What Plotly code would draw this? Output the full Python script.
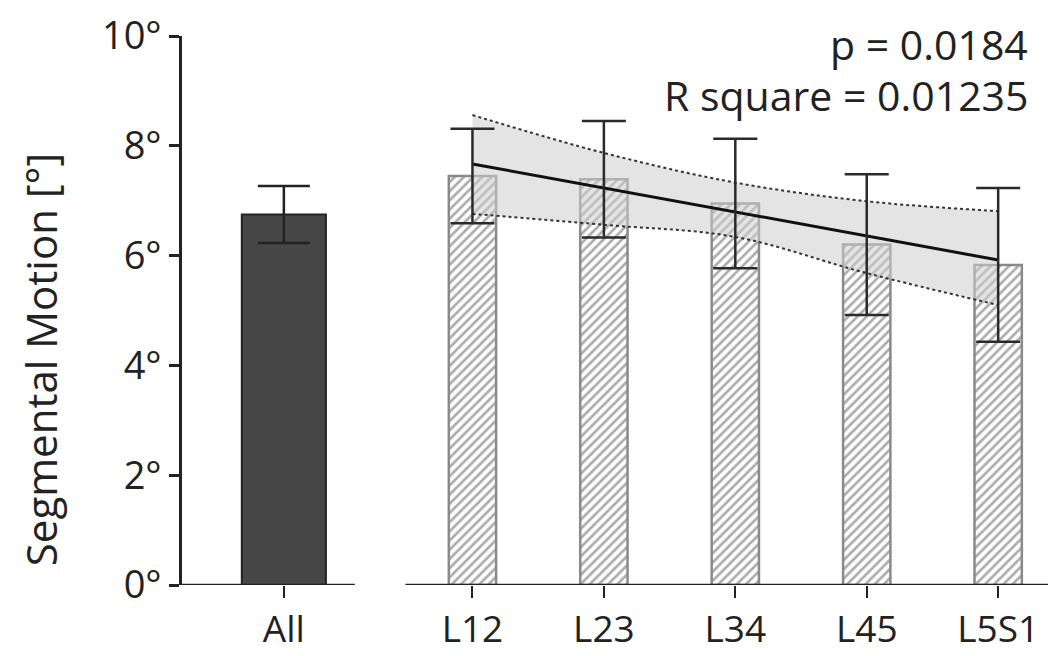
import plotly.graph_objects as go

# ---- data ----
categories = ["All", "L12", "L23", "L34", "L45", "L5S1"]
all_mean = [6.75]
all_err = [0.52]
seg_labels = ["L12", "L23", "L34", "L45", "L5S1"]
seg_mean = [7.45, 7.39, 6.95, 6.20, 5.83]
seg_err = [0.86, 1.06, 1.18, 1.28, 1.40]
fit_line = [7.67, 7.23, 6.80, 6.36, 5.92]
ci_upper = [8.56, 7.87, 7.33, 6.99, 6.81]
ci_lower = [6.76, 6.56, 6.34, 5.68, 5.10]
y_ticks = [0, 2, 4, 6, 8, 10]
y_ticktext = ["0°", "2°", "4°", "6°", "8°", "10°"]
y_title = "Segmental Motion [°]"
p_text = "p = 0.0184"
r2_text = "R square = 0.01235"

# ---- layout positions (not data) ----
all_pos = [-0.435]
seg_pos = [1, 2, 3, 4, 5]
x_range = [-1.21, 5.44]

FONT = "Open Sans"
fig = go.Figure()

fig.add_trace(go.Bar(
    x=all_pos, y=all_mean, width=0.64,
    marker=dict(color="#464646", line=dict(color="#222222", width=2)),
    showlegend=False,
))
fig.add_trace(go.Bar(
    x=seg_pos, y=seg_mean, width=0.36,
    marker=dict(color="white", line=dict(color="#8a8a8a", width=2.5),
                pattern=dict(shape="/", fgcolor="#5a5a5a", bgcolor="white",
                             size=6.5, solidity=0.42)),
    showlegend=False,
))

# confidence band
fig.add_trace(go.Scatter(
    x=seg_pos, y=ci_upper, mode="lines", line=dict(color="#333333", width=2, dash="dot", shape="spline"),
    showlegend=False, hoverinfo="skip",
))
fig.add_trace(go.Scatter(
    x=seg_pos, y=ci_lower, mode="lines", line=dict(color="#333333", width=2, dash="dot", shape="spline"),
    fill="tonexty", fillcolor="rgba(205,205,205,0.55)",
    showlegend=False, hoverinfo="skip",
))
# regression line
fig.add_trace(go.Scatter(
    x=seg_pos, y=fit_line, mode="lines", line=dict(color="#111111", width=3),
    showlegend=False, hoverinfo="skip",
))

# error bars
fig.add_trace(go.Scatter(
    x=all_pos, y=all_mean, mode="markers", marker=dict(color="rgba(0,0,0,0)", size=1),
    error_y=dict(type="data", array=all_err, color="#222222", thickness=2.5, width=26),
    showlegend=False, hoverinfo="skip",
))
fig.add_trace(go.Scatter(
    x=seg_pos, y=seg_mean, mode="markers", marker=dict(color="rgba(0,0,0,0)", size=1),
    error_y=dict(type="data", array=seg_err, color="#2a2a2a", thickness=2.5, width=22),
    showlegend=False, hoverinfo="skip",
))

# broken x axis line
fig.add_shape(type="line", xref="x", yref="y", x0=x_range[0], x1=0.105, y0=0, y1=0,
              line=dict(color="#222222", width=2.5), layer="above")
fig.add_shape(type="line", xref="x", yref="y", x0=0.49, x1=x_range[1], y0=0, y1=0,
              line=dict(color="#222222", width=2.5), layer="above")

fig.add_annotation(xref="paper", yref="paper", x=0.97, y=0.985, text=p_text,
                   showarrow=False, xanchor="right", yanchor="middle",
                   font=dict(family=FONT, size=41, color="#222222"))
fig.add_annotation(xref="paper", yref="paper", x=0.97, y=0.893, text=r2_text,
                   showarrow=False, xanchor="right", yanchor="middle",
                   font=dict(family=FONT, size=41, color="#222222"))
# y-axis title
fig.add_annotation(xref="paper", yref="paper", x=-0.161, y=0.41, text=y_title,
                   textangle=-90, showarrow=False, xanchor="center", yanchor="middle",
                   font=dict(family=FONT, size=42, color="#222222"))

fig.update_layout(
    width=1048, height=648,
    margin=dict(l=174, r=0, t=19, b=71),
    paper_bgcolor="white", plot_bgcolor="white",
    barmode="overlay",
    font=dict(family=FONT, size=36, color="#222222"),
    xaxis=dict(range=x_range, tickvals=all_pos + seg_pos, ticktext=categories,
               ticks="outside", ticklen=12, tickwidth=2, tickcolor="#222222",
               showline=False, zeroline=False, showgrid=False,
               tickfont=dict(family=FONT, size=37, color="#222222")),
    yaxis=dict(range=[0, 10], tickvals=y_ticks, ticktext=y_ticktext,
               ticks="outside", ticklen=10, tickwidth=2.5, tickcolor="#222222",
               showline=True, linewidth=2.5, linecolor="#222222",
               zeroline=False, showgrid=False, ticklabeloverflow="allow",
               tickfont=dict(family=FONT, size=38, color="#222222")),
)

fig.write_html("out.html")
